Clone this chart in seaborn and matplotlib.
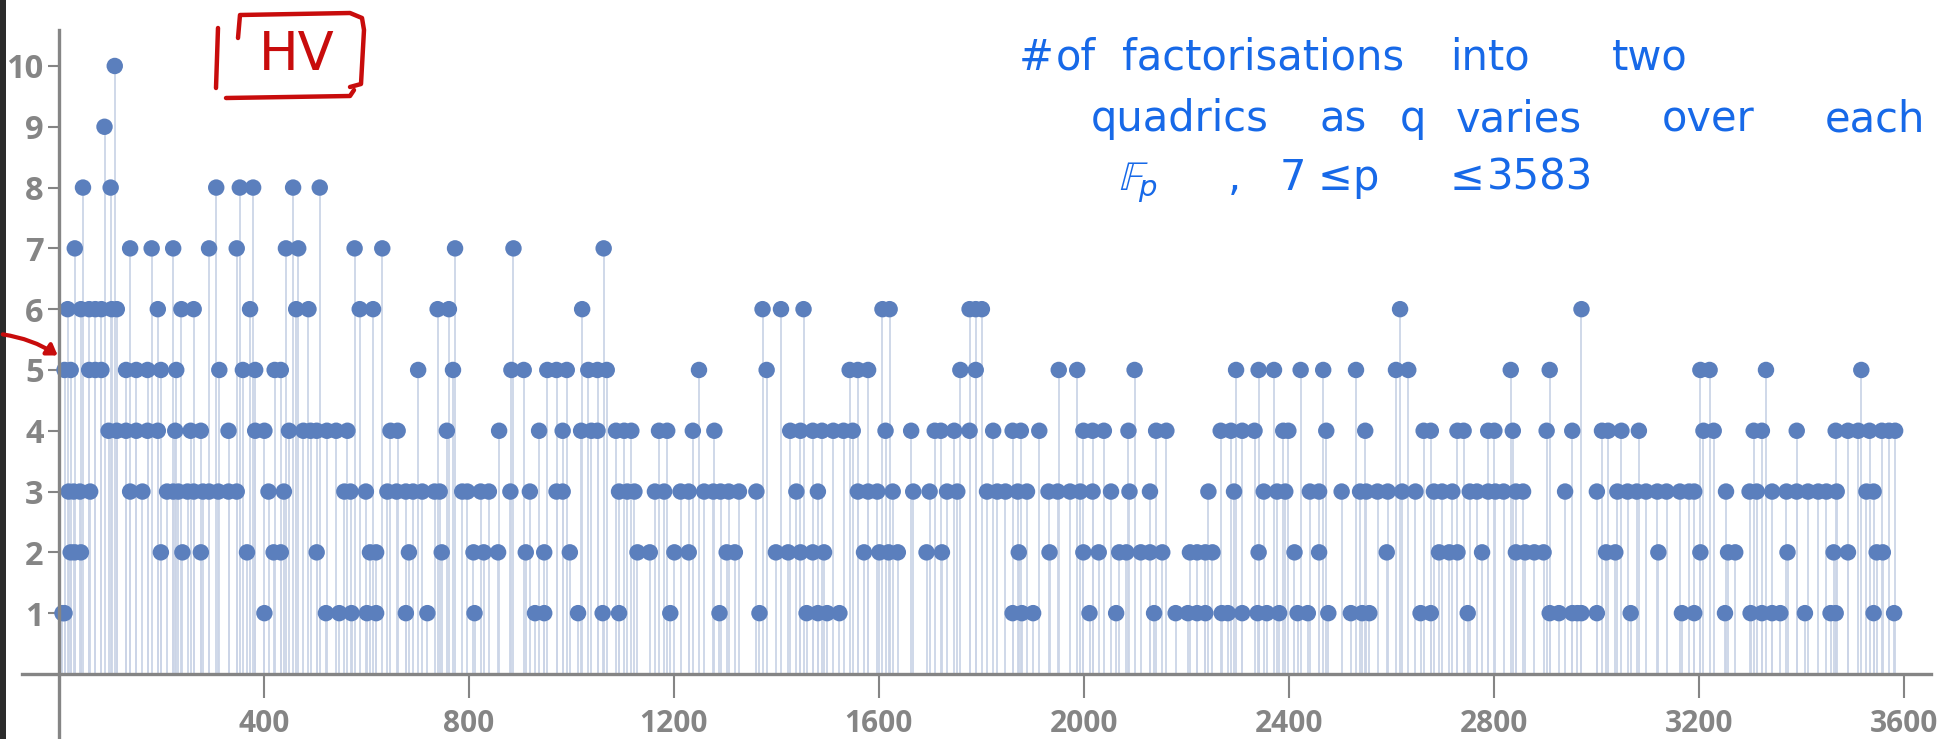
import numpy as np
import pandas as pd
import matplotlib
matplotlib.use("Agg")
import matplotlib.pyplot as plt
import seaborn as sns
from matplotlib.lines import Line2D
from matplotlib.patches import Rectangle, FancyArrowPatch

# ---- data: primes p (x) grouped by the count shown (y) ----
level_10_p = [109]
level_9_p = [89]
level_8_p = [47, 101, 307, 353, 379, 457, 509]
level_7_p = [31, 139, 181, 223, 293, 347, 443, 467, 577, 631, 773, 887, 1063]
level_6_p = [17, 43, 59, 71, 83, 103, 113, 193, 239, 263, 373, 463, 487, 587, 613, 739, 761,
             1021, 1373, 1409, 1453, 1607, 1621, 1777, 1789, 1801, 2617, 2971]
level_5_p = [11, 23, 59, 71, 83, 131, 151, 173, 199, 229, 313, 359, 383, 421, 433, 701, 769,
             883, 907, 953, 971, 991, 1033, 1051, 1069, 1249, 1381, 1543, 1559, 1579, 1759,
             1789, 1951, 1987, 2099, 2297, 2341, 2371, 2423, 2467, 2531, 2609, 2633, 2833,
             2909, 3203, 3221, 3331, 3517]
level_4_p = [97, 113, 131, 151, 173, 193, 227, 257, 277, 331, 383, 401, 449, 477, 491, 503,
             523, 541, 563, 647, 661, 757, 859, 937, 983, 1019, 1039, 1051, 1087, 1103, 1117,
             1171, 1187, 1237, 1279, 1427, 1447, 1471, 1489, 1511, 1531, 1549, 1613, 1663,
             1709, 1721, 1747, 1777, 1823, 1861, 1877, 1913, 1999, 2017, 2039, 2087, 2141,
             2161, 2267, 2287, 2309, 2333, 2389, 2399, 2473, 2549, 2663, 2677, 2729, 2741,
             2789, 2801, 2837, 2903, 2953, 3011, 3023, 3049, 3083, 3209, 3229, 3307, 3323,
             3391, 3467, 3491, 3511, 3533, 3557, 3571, 3583]
level_3_p = [19, 29, 41, 61, 139, 163, 211, 223, 233, 251, 263, 281, 293, 311, 331, 347, 409,
             439, 557, 569, 599, 641, 659, 677, 691, 709, 733, 743, 787, 797, 823, 839, 881,
             919, 971, 983, 1093, 1109, 1123, 1163, 1181, 1213, 1229, 1259, 1277, 1291, 1307,
             1327, 1361, 1439, 1481, 1559, 1579, 1597, 1627, 1667, 1699, 1733, 1753, 1811,
             1831, 1847, 1871, 1889, 1931, 1949, 1973, 1993, 2017, 2053, 2089, 2129, 2243,
             2293, 2351, 2377, 2393, 2441, 2459, 2503, 2539, 2551, 2573, 2593, 2621, 2647,
             2683, 2699, 2719, 2753, 2767, 2789, 2803, 2819, 2843, 2857, 2939, 3001, 3041,
             3061, 3079, 3097, 3119, 3137, 3163, 3181, 3191, 3253, 3299, 3313, 3343, 3371,
             3391, 3413, 3433, 3449, 3469, 3527, 3541]
level_2_p = [23, 31, 43, 199, 241, 277, 367, 419, 433, 503, 607, 619, 683, 747, 809, 829, 857,
             911, 947, 997, 1129, 1153, 1201, 1229, 1303, 1319, 1399, 1423, 1447, 1471, 1493,
             1571, 1601, 1619, 1637, 1693, 1723, 1873, 1933, 1999, 2029, 2069, 2083, 2111,
             2129, 2153, 2207, 2221, 2237, 2251, 2341, 2411, 2459, 2591, 2693, 2713, 2729,
             2777, 2843, 2861, 2879, 2897, 3019, 3037, 3121, 3203, 3257, 3271, 3373, 3463,
             3491, 3547, 3559]
level_1_p = [7, 11, 401, 521, 547, 571, 601, 619, 677, 719, 811, 929, 947, 1013, 1061, 1093,
             1193, 1289, 1367, 1459, 1481, 1499, 1523, 1861, 1879, 1901, 2011, 2063, 2137,
             2179, 2203, 2221, 2237, 2269, 2281, 2309, 2339, 2357, 2381, 2417, 2437, 2477,
             2521, 2543, 2557, 2657, 2677, 2749, 2909, 2927, 2953, 2963, 2971, 3001, 3067,
             3167, 3191, 3251, 3301, 3323, 3343, 3359, 3407, 3457, 3467, 3541, 3581]

counts = [1, 2, 3, 4, 5, 6, 7, 8, 9, 10]
x_ticks = [400, 800, 1200, 1600, 2000, 2400, 2800, 3200, 3600]
y_ticks = [1, 2, 3, 4, 5, 6, 7, 8, 9, 10]

groups = [level_1_p, level_2_p, level_3_p, level_4_p, level_5_p,
          level_6_p, level_7_p, level_8_p, level_9_p, level_10_p]
df = pd.concat([pd.DataFrame({"p": g, "count": c}) for g, c in zip(groups, counts)],
               ignore_index=True).sort_values("p")

# ---- style ----
sns.set_theme(style="white")
plt.rcParams['font.family'] = ['Open Sans', 'DejaVu Sans']

W, H = 1960, 739
fig = plt.figure(figsize=(W / 100, H / 100), dpi=100)
fig.patch.set_facecolor("white")
ax = fig.add_axes([22 / W, 0, (1931 - 22) / W, (739 - 29.5) / H])
ax.set_facecolor("white")

AXIS_GREY = "#858585"
DOT = "#5b7fbd"
STEM = "#ccd5e7"

ax.vlines(df["p"], 0, df["count"], color=STEM, lw=1.3, zorder=1)
sns.scatterplot(data=df, x="p", y="count", s=140, color=DOT, edgecolor="none",
                linewidth=0, ax=ax, zorder=3, legend=False)

ax.set_xlim(-72, 3653)
ax.set_ylim(-1.07, 10.6)
ax.set_xlabel("")
ax.set_ylabel("")

for s in ["top", "right"]:
    ax.spines[s].set_visible(False)
ax.spines["left"].set_position(("data", 0))
ax.spines["bottom"].set_position(("data", 0))
for s in ["left", "bottom"]:
    ax.spines[s].set_color(AXIS_GREY)
    ax.spines[s].set_linewidth(2.4)
    ax.spines[s].set_zorder(4)

ax.set_xticks(x_ticks)
ax.set_xticklabels([str(t) for t in x_ticks])
ax.set_yticks(y_ticks)
ax.set_yticklabels([str(t) for t in y_ticks])
ax.tick_params(axis="x", direction="out", length=17, width=1.5, color=AXIS_GREY,
               labelsize=21.5, labelcolor=AXIS_GREY, pad=8, bottom=True)
ax.tick_params(axis="y", direction="out", length=8, width=1.5, color=AXIS_GREY,
               labelsize=23.5, labelcolor=AXIS_GREY, pad=3, left=True)
for lbl in ax.get_xticklabels() + ax.get_yticklabels():
    lbl.set_fontweight("bold")


def fx(x):
    return x / W


def fy(y):
    return 1 - y / H


# dark strip at left edge (screenshot border)
fig.add_artist(Rectangle((0, 0), 6 / W, 1, transform=fig.transFigure,
                         facecolor="#2b2b2b", edgecolor="none", zorder=10))

# ---- handwritten-style annotations ----
RED = "#c80c0c"
BLUE = "#1769e8"

fig.text(fx(297), fy(55), "HV", color=RED, fontsize=38, ha="center", va="center",
         family=["DejaVu Sans"], zorder=11)
for xs, ys in [
    ([218, 216], [28, 88]),
    ([238, 240, 350, 362, 364, 361, 350], [38, 15, 13, 18, 30, 84, 87]),
    ([226, 350, 354], [98, 96, 90]),
]:
    fig.add_artist(Line2D([fx(x) for x in xs], [fy(y) for y in ys],
                          transform=fig.transFigure, color=RED, lw=3.2,
                          solid_capstyle="round", solid_joinstyle="round", zorder=11))

arrow = FancyArrowPatch((fx(0), fy(334)), (fx(60), fy(357)),
                        transform=fig.transFigure, arrowstyle="-|>,head_length=6,head_width=4",
                        connectionstyle="arc3,rad=-0.12", color=RED, lw=3, zorder=11)
fig.add_artist(arrow)

line1 = [("#", 1019), ("of", 1056), ("factorisations", 1122), ("into", 1450), ("two", 1612)]
line2 = [("quadrics", 1091), ("as", 1319), ("q", 1400), ("varies", 1456), ("over", 1662),
         ("each", 1825)]
line3 = [(r"$\mathbb{F}_p$", 1119), (",", 1228), ("7", 1280), ("≤", 1318), ("p", 1352),
         ("≤", 1450), ("3583", 1487)]
for words, base in [(line1, 70), (line2, 131), (line3, 190)]:
    for w, x in words:
        fig.text(fx(x), fy(base), w, color=BLUE, fontsize=30, ha="left", va="baseline",
                 family=["DejaVu Sans"], zorder=11)

fig.savefig("out.png", dpi=100, facecolor="white")
